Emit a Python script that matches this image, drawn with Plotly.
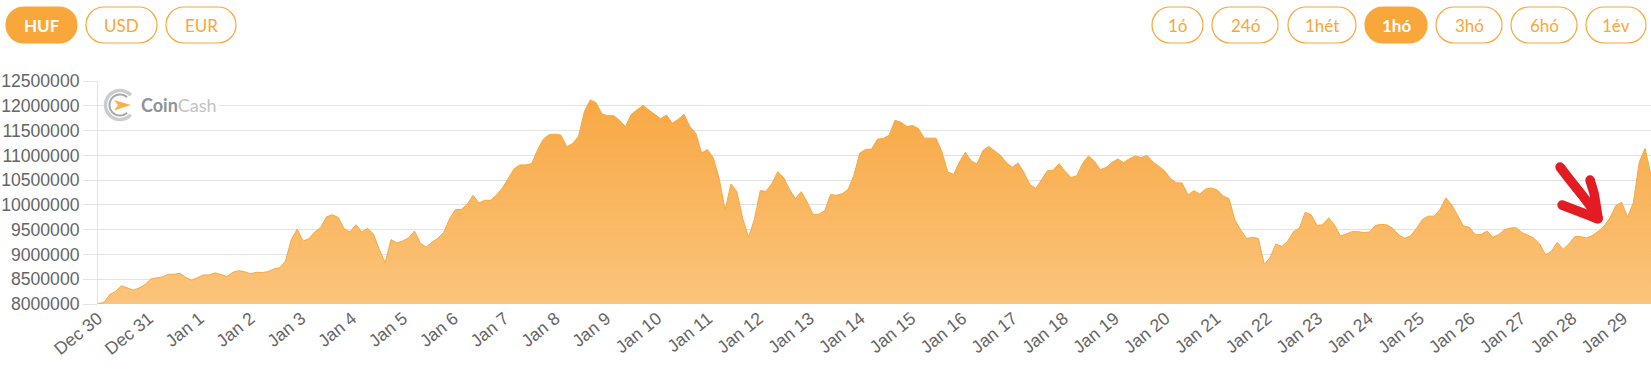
import math
import pandas as pd
import plotly.graph_objects as go

# ---------------- data ----------------
start_time = "2020-12-30 00:00"
sample_step = "166min"
prices = [
    8013000, 8027000, 8193000, 8253000, 8367000, 8327000, 8280000, 8320000, 8387000, 8507000,
    8533000, 8547000, 8600000, 8600000, 8620000, 8533000, 8480000, 8533000, 8587000, 8587000,
    8627000, 8593000, 8553000, 8640000, 8673000, 8653000, 8607000, 8640000, 8633000, 8653000,
    8707000, 8733000, 8867000, 9307000, 9513000, 9267000, 9320000, 9453000, 9547000, 9760000,
    9800000, 9747000, 9520000, 9453000, 9600000, 9453000, 9527000, 9413000, 9100000, 8833000,
    9300000, 9233000, 9273000, 9333000, 9473000, 9227000, 9147000, 9247000, 9327000, 9447000,
    9720000, 9907000, 9907000, 10013000, 10193000, 10040000, 10093000, 10093000, 10200000, 10340000,
    10533000, 10727000, 10807000, 10807000, 10833000, 11107000, 11327000, 11420000, 11427000, 11407000,
    11173000, 11240000, 11387000, 11887000, 12120000, 12060000, 11833000, 11800000, 11800000, 11707000,
    11580000, 11827000, 11920000, 12007000, 11913000, 11827000, 11740000, 11813000, 11647000, 11727000,
    11827000, 11580000, 11447000, 11047000, 11120000, 10947000, 10533000, 9893000, 10420000, 10273000,
    9733000, 9347000, 9707000, 10287000, 10273000, 10433000, 10673000, 10547000, 10313000, 10127000,
    10267000, 10060000, 9807000, 9813000, 9880000, 10207000, 10193000, 10227000, 10313000, 10607000,
    11047000, 11120000, 11127000, 11327000, 11340000, 11407000, 11707000, 11667000, 11580000, 11600000,
    11540000, 11347000, 11340000, 11347000, 11073000, 10667000, 10613000, 10867000, 11060000, 10887000,
    10827000, 11100000, 11180000, 11087000, 11000000, 10853000, 10760000, 10847000, 10653000, 10413000,
    10333000, 10507000, 10687000, 10700000, 10833000, 10680000, 10553000, 10587000, 10833000, 10987000,
    10887000, 10713000, 10753000, 10853000, 10927000, 10853000, 10933000, 10987000, 10953000, 11000000,
    10867000, 10780000, 10687000, 10533000, 10447000, 10440000, 10200000, 10287000, 10220000, 10320000,
    10340000, 10300000, 10180000, 10127000, 9693000, 9493000, 9320000, 9347000, 9320000, 8800000,
    8940000, 9213000, 9160000, 9267000, 9460000, 9533000, 9853000, 9800000, 9587000, 9600000,
    9740000, 9593000, 9373000, 9413000, 9460000, 9460000, 9440000, 9453000, 9587000, 9607000,
    9593000, 9520000, 9387000, 9327000, 9380000, 9527000, 9707000, 9773000, 9773000, 9907000,
    10140000, 10000000, 9793000, 9573000, 9547000, 9400000, 9400000, 9473000, 9347000, 9400000,
    9500000, 9533000, 9540000, 9440000, 9387000, 9327000, 9213000, 8993000, 9060000, 9247000,
    9100000, 9213000, 9360000, 9360000, 9333000, 9380000, 9467000, 9573000, 9740000, 9987000,
    10053000, 9753000, 10047000, 10867000, 11140000, 10600000,
]
y_tick_values = [8000000, 8500000, 9000000, 9500000, 10000000, 10500000,
                 11000000, 11500000, 12000000, 12500000]
currency_buttons = ["HUF", "USD", "EUR"]
period_buttons = ["1ó", "24ó", "1hét", "1hó", "3hó", "6hó", "1év"]
active_currency = "HUF"
active_period = "1hó"

times = pd.date_range(start_time, periods=len(prices), freq=sample_step)

# ---------------- layout geometry ----------------
W, H = 1651, 373
ML, MR, MT, MB = 98, 0, 81, 69
PW, PH = W - ML - MR, H - MT - MB


def px(x):
    return (x - ML) / PW


def py(y):
    return (H - MB - y) / PH


ORANGE = "#F9A63A"
TICK_FONT = dict(family="Liberation Sans, Arial, sans-serif", size=17.6, color="#666666")
BTN_FONT = "Lato, Noto Sans, sans-serif"


def pill_path(x0, y0, x1, y1):
    r = (y1 - y0) / 2
    k = 0.5523 * r
    ym = (y0 + y1) / 2
    pts = [
        ("M", [(x0 + r, y0)]),
        ("L", [(x1 - r, y0)]),
        ("C", [(x1 - r + k, y0), (x1, ym - k), (x1, ym)]),
        ("C", [(x1, ym + k), (x1 - r + k, y1), (x1 - r, y1)]),
        ("L", [(x0 + r, y1)]),
        ("C", [(x0 + r - k, y1), (x0, ym + k), (x0, ym)]),
        ("C", [(x0, ym - k), (x0 + r - k, y0), (x0 + r, y0)]),
    ]
    s = ""
    for cmd, ps in pts:
        s += cmd + " " + " ".join(f"{px(a):.5f},{py(b):.5f}" for a, b in ps) + " "
    return s + "Z"


def poly_path(points, close=False):
    s = "M " + " L ".join(f"{px(a):.5f},{py(b):.5f}" for a, b in points)
    return s + (" Z" if close else "")


def arc_points(cx, cy, r, a0, a1, n=40):
    return [(cx + r * math.cos(math.radians(a0 + (a1 - a0) * i / n)),
             cy - r * math.sin(math.radians(a0 + (a1 - a0) * i / n))) for i in range(n + 1)]


fig = go.Figure()
fig.add_trace(go.Scatter(
    x=times, y=prices, mode="lines",
    line=dict(color="#F8A83F", width=1),
    fill="tozeroy",
    fillgradient=dict(type="vertical", start=8000000, stop=12200000,
                      colorscale=[[0, "rgba(251,192,114,0.93)"], [1, "rgba(247,161,52,0.93)"]]),
    hoverinfo="skip",
))

shapes = []
annotations = []

# currency / period buttons
cur_boxes = [(6, 7, 77, 43), (86, 7, 157, 43), (166, 7, 236, 43)]
per_boxes = [(1152, 7, 1203, 43), (1212, 7, 1278, 43), (1288, 7, 1356, 43), (1365, 7, 1427, 43),
             (1436, 7, 1502, 43), (1511, 7, 1577, 43), (1586, 7, 1646, 43)]
for labels, boxes, active in ((currency_buttons, cur_boxes, active_currency),
                              (period_buttons, per_boxes, active_period)):
    for lab, (x0, y0, x1, y1) in zip(labels, boxes):
        on = lab == active
        shapes.append(dict(type="path", xref="paper", yref="paper", path=pill_path(x0, y0, x1, y1),
                           fillcolor=ORANGE if on else "rgba(0,0,0,0)",
                           line=dict(color=ORANGE, width=1.2)))
        annotations.append(dict(xref="paper", yref="paper", x=px((x0 + x1) / 2), y=py((y0 + y1) / 2 + 0.5),
                                text=(f"<b>{lab}</b>" if on else lab), showarrow=False,
                                xanchor="center", yanchor="middle",
                                font=dict(family=BTN_FONT, size=17, color="white" if on else ORANGE)))

# CoinCash watermark
shapes.append(dict(type="rect", xref="paper", yref="paper", x0=px(103), x1=px(219), y0=py(122), y1=py(88),
                   fillcolor="white", line=dict(width=0)))
shapes.append(dict(type="path", xref="paper", yref="paper",
                   path=poly_path(arc_points(120, 105, 14.5, 42, 318)),
                   line=dict(color="#c9cdd0", width=3.5)))
shapes.append(dict(type="path", xref="paper", yref="paper",
                   path=poly_path(arc_points(120, 105, 10.5, 48, 312)),
                   line=dict(color="#a3a8ac", width=2)))
shapes.append(dict(type="path", xref="paper", yref="paper",
                   path=poly_path([(114, 100), (131, 105), (114, 110.5), (118, 105)], close=True),
                   fillcolor="#F9B24A", line=dict(width=0)))
annotations.append(dict(xref="paper", yref="paper", x=px(139), y=py(105), xanchor="left", yanchor="middle",
                        showarrow=False,
                        text="<span style='color:#8d9398'><b>Coin</b></span><span style='color:#bfc3c6'>Cash</span>",
                        font=dict(family=BTN_FONT, size=18)))

# red hand-drawn arrow
RED = "#E31B23"
for pts in ([(1560, 167), (1570, 180), (1582, 195), (1591, 207), (1598, 218)],
            [(1590, 180), (1594, 193), (1596, 205), (1598, 218)],
            [(1562, 205), (1575, 210), (1588, 215), (1598, 219)]):
    shapes.append(dict(type="path", xref="paper", yref="paper", path=poly_path(pts),
                       line=dict(color=RED, width=9.5)))
    for (a, b) in (pts[0], pts[-1]):
        shapes.append(dict(type="circle", xref="paper", yref="paper",
                           x0=px(a - 4.7), x1=px(a + 4.7), y0=py(b + 4.7), y1=py(b - 4.7),
                           fillcolor=RED, line=dict(width=0)))

fig.update_layout(
    width=W, height=H,
    margin=dict(l=ML, r=MR, t=MT, b=MB, pad=0),
    paper_bgcolor="white", plot_bgcolor="white",
    showlegend=False,
    shapes=shapes,
    annotations=annotations,
    hovermode=False,
)
fig.update_xaxes(
    type="date", range=[times[0], times[-1]],
    dtick=86400000, tick0="2020-12-30", tickformat="%b %-d",
    tickangle=-39, tickfont=TICK_FONT,
    showgrid=False, showline=False, zeroline=False,
    ticks="", automargin=False, fixedrange=True,
)
fig.update_yaxes(
    range=[8000000, 12500000],
    tickmode="array", tickvals=y_tick_values, ticktext=[str(v) for v in y_tick_values],
    tickfont=TICK_FONT,
    showgrid=True, gridcolor="#e3e3e3", gridwidth=1,
    showline=True, linecolor="#e3e3e3", linewidth=1,
    ticks="outside", ticklen=14, tickcolor="#e3e3e3",
    zeroline=False, automargin=False, fixedrange=True,
)

fig.write_html("out.html", config={"displayModeBar": False},
               post_script="document.body.style.margin='0px';document.body.style.overflow='hidden';")
